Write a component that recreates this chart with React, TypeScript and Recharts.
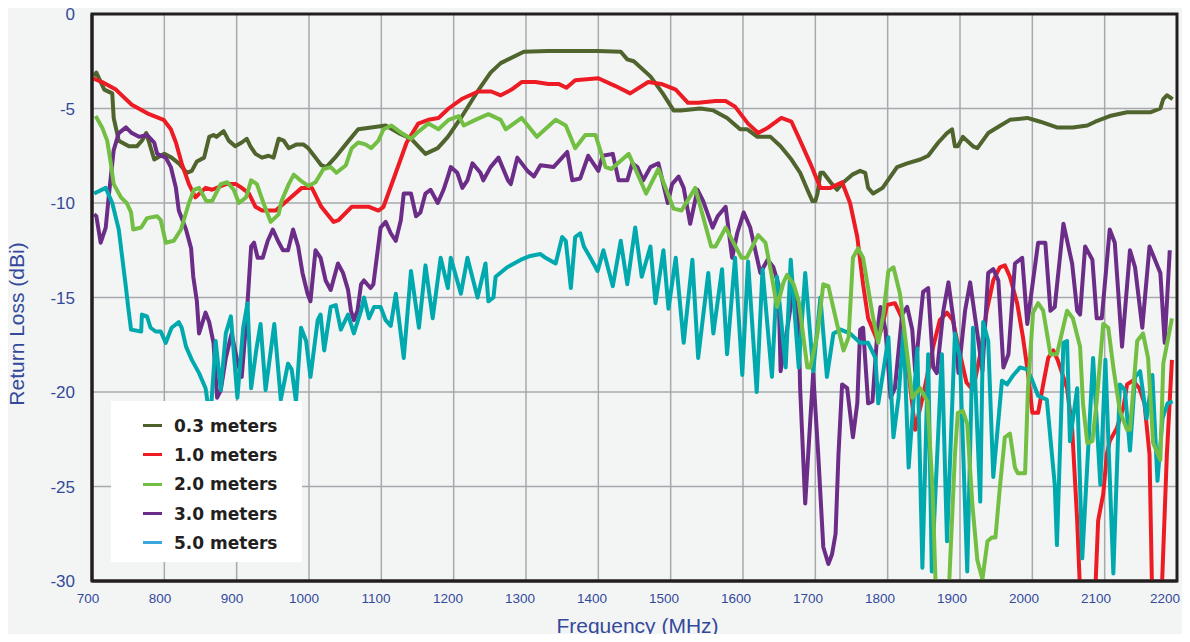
import { LineChart, Line, XAxis, YAxis, CartesianGrid, ReferenceArea } from "recharts";

type Pt = [number, number]; // [MHz, dBi]

const xTicks = [700, 800, 900, 1000, 1100, 1200, 1300, 1400, 1500, 1600, 1700, 1800, 1900, 2000, 2100, 2200];
const yTicks = [0, -5, -10, -15, -20, -25, -30];

const rl03: Pt[] = [
  [703, -3.3], [706, -3.1], [717, -4.0], [728, -4.2], [730, -5.5], [737, -6.7], [751, -7.0], [762, -7.0],
  [769, -6.7], [775, -6.3], [779, -6.8], [786, -7.7], [800, -7.4], [810, -7.6], [820, -7.9], [831, -8.4],
  [838, -8.3], [845, -7.8], [855, -7.6], [862, -6.5], [868, -6.4], [872, -6.5], [882, -6.2], [889, -6.7],
  [898, -7.0], [907, -6.8], [914, -6.6], [919, -7.0], [926, -7.4], [935, -7.6], [944, -7.5], [951, -7.6],
  [958, -6.6], [965, -6.7], [972, -7.1], [983, -6.9], [992, -6.9], [999, -7.1], [1009, -7.6], [1017, -8.0],
  [1024, -8.1], [1036, -7.6], [1055, -6.7], [1068, -6.1], [1086, -6.0], [1106, -5.9], [1124, -6.3],
  [1141, -6.6], [1161, -7.4], [1178, -7.1], [1192, -6.5], [1210, -5.5], [1233, -4.1], [1251, -3.1],
  [1265, -2.6], [1297, -2.0], [1330, -1.96], [1399, -1.96], [1431, -2.0], [1440, -2.4], [1449, -2.5],
  [1472, -3.3], [1489, -4.2], [1504, -5.1], [1514, -5.1], [1541, -5.0], [1559, -5.1], [1578, -5.5],
  [1596, -6.1], [1606, -6.1], [1620, -6.5], [1638, -6.5], [1652, -7.0], [1667, -7.7], [1679, -8.4],
  [1689, -9.3], [1696, -9.9], [1700, -9.9], [1703, -9.5], [1707, -8.4], [1711, -8.4], [1721, -8.9],
  [1730, -9.3], [1739, -8.9], [1751, -8.5], [1762, -8.3], [1769, -8.4], [1773, -9.2], [1780, -9.5],
  [1793, -9.2], [1813, -8.1], [1827, -7.9], [1845, -7.7], [1856, -7.5], [1870, -6.8], [1882, -6.3],
  [1889, -6.1], [1893, -7.0], [1897, -7.0], [1904, -6.5], [1918, -7.0], [1924, -7.1], [1939, -6.3],
  [1956, -5.9], [1969, -5.6], [1993, -5.5], [2011, -5.7], [2034, -6.0], [2056, -6.0], [2076, -5.9],
  [2087, -5.7], [2107, -5.4], [2131, -5.2], [2163, -5.2], [2177, -5.0], [2181, -4.5], [2186, -4.3],
  [2194, -4.5],
];

const rl10: Pt[] = [
  [701, -3.4], [714, -3.6], [733, -4.0], [755, -4.8], [779, -5.3], [799, -5.6], [809, -6.1], [816, -6.8],
  [824, -7.9], [834, -9.0], [843, -9.7], [857, -9.2], [866, -9.3], [885, -9.0], [899, -9.0], [907, -9.2],
  [917, -9.5], [926, -10.2], [935, -10.4], [954, -10.4], [972, -9.8], [990, -9.2], [1004, -9.2],
  [1017, -10.2], [1034, -11.0], [1041, -10.9], [1059, -10.2], [1083, -10.2], [1096, -10.4], [1103, -10.2],
  [1120, -8.4], [1135, -6.8], [1151, -5.8], [1165, -5.6], [1179, -5.5], [1193, -5.0], [1211, -4.5],
  [1234, -4.1], [1252, -4.1], [1265, -4.3], [1280, -4.0], [1294, -3.6], [1313, -3.6], [1331, -3.7],
  [1345, -3.7], [1356, -3.9], [1368, -3.5], [1400, -3.4], [1423, -3.8], [1444, -4.2], [1469, -3.6],
  [1487, -3.7], [1507, -4.0], [1524, -4.7], [1538, -4.7], [1562, -4.6], [1576, -4.6], [1589, -4.9],
  [1607, -5.8], [1621, -6.3], [1635, -6.0], [1653, -5.5], [1667, -5.7], [1679, -6.7], [1693, -7.9],
  [1707, -9.2], [1721, -9.2], [1737, -8.9], [1748, -10.0], [1758, -11.8], [1766, -14.3], [1773, -16.1],
  [1786, -17.3], [1792, -16.6], [1799, -15.4], [1810, -15.3], [1820, -16.1], [1829, -19.0], [1838, -22.0],
  [1850, -20.0], [1863, -17.6], [1872, -16.2], [1882, -15.8], [1890, -16.2], [1900, -18.0], [1909, -19.5],
  [1918, -19.9], [1928, -18.0], [1937, -15.7], [1946, -14.1], [1955, -13.4], [1962, -13.3], [1969, -13.9],
  [1979, -15.3], [1987, -17.1], [1994, -19.0], [2000, -21.1], [2008, -21.1], [2015, -19.6], [2022, -18.2],
  [2029, -17.8], [2035, -18.3], [2048, -19.8], [2055, -21.9], [2062, -26.8], [2067, -31.5], [2086, -31.5],
  [2091, -26.8], [2098, -25.4], [2103, -23.3], [2107, -22.6], [2117, -21.9], [2126, -20.8], [2131, -19.6],
  [2139, -19.4], [2148, -19.8], [2155, -20.6], [2162, -23.3], [2166, -31.5], [2178, -31.5], [2186, -23.3],
  [2193, -18.3],
];

const rl20: Pt[] = [
  [705, -5.4], [714, -6.0], [721, -6.7], [726, -7.9], [730, -9.0], [740, -9.7], [748, -10.0], [754, -10.5],
  [757, -11.4], [768, -11.3], [776, -10.8], [790, -10.7], [795, -10.9], [802, -12.1], [813, -12.0],
  [823, -11.4], [834, -10.0], [841, -9.3], [848, -9.2], [858, -9.9], [866, -9.9], [878, -9.0], [887, -8.9],
  [896, -9.3], [903, -10.0], [913, -9.7], [920, -8.8], [928, -9.0], [937, -10.0], [947, -11.0], [958, -10.6],
  [962, -9.9], [972, -9.0], [979, -8.5], [988, -8.8], [999, -9.1], [1009, -8.9], [1020, -8.2], [1030, -8.1],
  [1038, -8.4], [1051, -8.0], [1059, -7.1], [1068, -6.8], [1078, -6.9], [1086, -7.1], [1096, -6.7],
  [1103, -6.1], [1114, -5.9], [1128, -6.3], [1141, -6.6], [1149, -6.3], [1165, -5.8], [1179, -6.1],
  [1193, -5.6], [1207, -5.4], [1214, -5.9], [1230, -5.6], [1248, -5.3], [1265, -5.6], [1272, -6.1],
  [1294, -5.5], [1315, -6.5], [1341, -5.6], [1355, -5.9], [1368, -7.1], [1382, -6.4], [1396, -6.4],
  [1410, -8.1], [1418, -8.2], [1442, -7.4], [1466, -9.5], [1483, -8.2], [1504, -10.3], [1515, -10.4],
  [1534, -9.2], [1556, -12.3], [1562, -12.3], [1576, -11.3], [1598, -12.9], [1605, -12.9], [1621, -11.7],
  [1631, -12.1], [1639, -13.7], [1647, -15.5], [1656, -14.2], [1661, -13.8], [1670, -14.3], [1677, -15.2],
  [1689, -18.7], [1693, -18.7], [1703, -16.9], [1711, -14.3], [1718, -14.4], [1730, -16.4], [1739, -17.8],
  [1746, -17.1], [1752, -12.9], [1759, -12.4], [1766, -12.9], [1779, -15.9], [1787, -17.4], [1794, -15.9],
  [1801, -13.6], [1808, -13.4], [1817, -14.8], [1827, -18.0], [1834, -20.3], [1845, -19.8], [1855, -20.5],
  [1862, -25.1], [1867, -31.0], [1884, -31.0], [1893, -23.3], [1897, -21.1], [1904, -21.0], [1910, -21.7],
  [1917, -25.9], [1924, -28.9], [1931, -29.9], [1938, -27.9], [1944, -27.7], [1949, -27.7], [1955, -25.1],
  [1962, -22.4], [1969, -22.2], [1976, -24.0], [1980, -24.3], [1990, -24.3], [1994, -19.8], [2001, -15.8],
  [2008, -15.3], [2015, -15.7], [2025, -18.0], [2034, -18.0], [2048, -15.7], [2056, -16.1], [2066, -17.6],
  [2070, -20.6], [2076, -22.7], [2083, -22.6], [2089, -20.5], [2098, -16.4], [2105, -16.6], [2112, -18.7],
  [2121, -21.0], [2131, -22.0], [2135, -22.0], [2145, -17.3], [2153, -16.9], [2160, -18.2], [2167, -22.7],
  [2177, -23.6], [2181, -18.5], [2193, -16.1],
];

const rl30: Pt[] = [
  [703, -10.6], [706, -10.7], [712, -12.1], [719, -11.3], [723, -9.7], [730, -7.2], [737, -6.3], [747, -6.0],
  [755, -6.3], [765, -6.5], [776, -6.4], [786, -6.8], [790, -7.4], [802, -7.6], [809, -8.1], [816, -9.2],
  [820, -10.4], [830, -11.4], [837, -12.4], [840, -13.9], [845, -15.2], [848, -16.9], [857, -15.8],
  [862, -16.3], [868, -17.4], [873, -20.3], [878, -19.9], [885, -18.2], [893, -16.9], [900, -18.2],
  [907, -19.2], [910, -17.8], [915, -15.3], [920, -12.3], [924, -12.1], [929, -12.9], [936, -12.9],
  [943, -12.0], [950, -11.4], [957, -12.0], [964, -12.5], [971, -12.5], [978, -11.4], [985, -12.3],
  [991, -13.7], [998, -14.8], [1002, -15.2], [1009, -12.5], [1016, -12.9], [1023, -14.1], [1030, -14.6],
  [1040, -13.2], [1047, -13.7], [1054, -14.6], [1058, -15.7], [1062, -16.2], [1067, -15.7], [1072, -14.3],
  [1076, -14.1], [1085, -14.5], [1089, -14.3], [1095, -12.5], [1099, -11.3], [1106, -11.0], [1113, -11.6],
  [1120, -12.0], [1127, -10.9], [1131, -9.5], [1141, -9.5], [1148, -10.7], [1154, -10.5], [1161, -9.5],
  [1168, -9.3], [1178, -10.0], [1186, -9.3], [1192, -8.6], [1196, -8.1], [1205, -8.4], [1212, -9.2],
  [1219, -8.8], [1226, -7.9], [1237, -8.4], [1241, -8.8], [1251, -8.1], [1262, -7.6], [1275, -8.8],
  [1279, -9.0], [1288, -7.6], [1302, -8.3], [1311, -8.6], [1320, -8.0], [1338, -8.1], [1350, -7.6],
  [1357, -7.3], [1364, -8.8], [1375, -8.7], [1386, -7.5], [1393, -7.9], [1400, -8.3], [1406, -7.5],
  [1420, -7.4], [1428, -8.8], [1440, -8.8], [1447, -7.9], [1454, -8.1], [1462, -8.8], [1472, -8.1],
  [1483, -7.9], [1496, -10.0], [1502, -9.0], [1511, -8.6], [1518, -9.2], [1527, -11.1], [1537, -9.3],
  [1545, -9.9], [1558, -11.3], [1565, -10.7], [1576, -10.2], [1585, -12.9], [1592, -11.6], [1601, -10.5],
  [1610, -11.3], [1624, -13.7], [1634, -13.0], [1642, -13.4], [1649, -14.3], [1652, -18.9], [1665, -15.7],
  [1670, -14.5], [1677, -16.4], [1679, -19.8], [1686, -25.9], [1693, -21.5], [1697, -19.0], [1704, -23.3],
  [1711, -28.2], [1718, -29.1], [1723, -28.6], [1728, -27.5], [1732, -23.3], [1737, -19.6], [1744, -19.8],
  [1752, -22.4], [1758, -20.6], [1762, -16.7], [1766, -16.6], [1773, -20.6], [1779, -20.5], [1786, -16.7],
  [1790, -15.5], [1797, -16.7], [1804, -20.3], [1810, -19.8], [1820, -15.9], [1827, -15.5], [1834, -16.7],
  [1838, -18.9], [1849, -14.7], [1856, -14.5], [1863, -18.7], [1868, -19.0], [1877, -15.7], [1884, -14.2],
  [1891, -16.2], [1898, -19.0], [1907, -15.7], [1914, -14.2], [1924, -16.9], [1931, -18.9], [1939, -13.7],
  [1946, -13.5], [1953, -14.1], [1960, -18.7], [1967, -18.0], [1976, -13.2], [1986, -12.9], [1993, -16.4],
  [2008, -12.1], [2018, -12.1], [2025, -15.7], [2031, -15.5], [2043, -11.1], [2055, -13.2], [2062, -15.7],
  [2066, -15.9], [2073, -12.3], [2083, -13.0], [2089, -16.1], [2096, -16.1], [2107, -11.4], [2114, -12.1],
  [2124, -17.6], [2135, -12.5], [2142, -13.4], [2152, -16.6], [2162, -12.3], [2177, -13.7], [2183, -17.4],
  [2190, -12.5],
];

const rl50: Pt[] = [
  [703, -9.5], [719, -9.2], [728, -10.0], [737, -11.4], [747, -14.5], [750, -15.5], [754, -16.7], [768, -16.8],
  [769, -15.9], [776, -16.0], [781, -16.6], [788, -16.8], [795, -16.8], [802, -17.4], [810, -16.6],
  [820, -16.3], [824, -16.6], [830, -17.6], [838, -18.3], [848, -19.0], [857, -19.8], [860, -20.6],
  [864, -21.2], [871, -17.3], [878, -19.9], [885, -16.9], [892, -16.0], [901, -20.3], [909, -16.6],
  [915, -15.3], [920, -19.8], [927, -17.8], [933, -16.4], [940, -19.9], [952, -16.4], [961, -20.4],
  [971, -18.5], [976, -18.8], [982, -20.5], [989, -16.6], [996, -17.3], [1002, -19.2], [1012, -16.2],
  [1016, -15.9], [1021, -17.8], [1030, -15.5], [1037, -15.4], [1044, -16.7], [1054, -15.9], [1062, -16.9],
  [1072, -15.7], [1076, -15.0], [1083, -16.1], [1090, -15.5], [1099, -15.5], [1106, -16.2], [1113, -16.5],
  [1120, -14.8], [1131, -18.2], [1141, -13.6], [1152, -16.6], [1161, -13.3], [1171, -16.1], [1182, -12.9],
  [1192, -14.5], [1196, -12.9], [1210, -14.8], [1219, -12.9], [1233, -15.0], [1244, -13.2], [1248, -15.2],
  [1255, -15.0], [1258, -13.9], [1274, -13.4], [1293, -13.0], [1306, -12.8], [1320, -12.7], [1327, -12.9],
  [1341, -13.2], [1350, -11.8], [1355, -12.0], [1362, -14.5], [1368, -11.8], [1375, -11.6], [1380, -12.3],
  [1389, -12.9], [1399, -13.6], [1407, -12.5], [1420, -14.4], [1431, -12.0], [1440, -14.3], [1451, -11.3],
  [1460, -13.9], [1472, -12.3], [1479, -15.3], [1490, -12.5], [1497, -15.6], [1507, -12.9], [1518, -17.4],
  [1530, -13.0], [1538, -18.2], [1552, -13.7], [1559, -16.9], [1571, -13.5], [1578, -18.0], [1589, -12.9],
  [1599, -19.1], [1607, -13.1], [1619, -20.0], [1627, -13.5], [1640, -19.2], [1647, -13.9], [1659, -18.7],
  [1666, -13.0], [1677, -18.7], [1686, -13.7], [1697, -18.9], [1707, -15.0], [1716, -19.2], [1725, -16.9],
  [1735, -16.7], [1748, -16.9], [1762, -17.4], [1773, -17.4], [1783, -18.2], [1787, -20.6], [1794, -18.9],
  [1801, -17.1], [1808, -22.4], [1815, -20.3], [1822, -16.7], [1829, -24.0], [1841, -17.7], [1848, -29.3],
  [1856, -18.0], [1861, -29.5], [1875, -18.0], [1882, -27.9], [1893, -16.9], [1900, -18.2], [1910, -29.5],
  [1918, -16.6], [1928, -25.8], [1932, -16.3], [1939, -17.3], [1946, -24.5], [1958, -19.4], [1965, -19.6],
  [1974, -19.1], [1983, -18.7], [1993, -18.8], [2000, -19.4], [2008, -20.2], [2020, -20.4], [2031, -24.9],
  [2034, -28.1], [2043, -17.4], [2048, -17.3], [2052, -22.6], [2062, -19.8], [2069, -28.8], [2084, -18.2],
  [2094, -24.9], [2101, -18.3], [2112, -29.6], [2121, -19.6], [2128, -19.9], [2135, -23.1], [2142, -19.2],
  [2149, -18.9], [2158, -21.4], [2166, -19.1], [2173, -24.7], [2180, -21.4], [2187, -20.6], [2194, -20.5],
];

const SERIES = [
  { id: "m03", name: "0.3 meters", color: "#50642d", swatch: "#4d602c", points: rl03 },
  { id: "m10", name: "1.0 meters", color: "#ed1c24", swatch: "#ed1c24", points: rl10 },
  { id: "m20", name: "2.0 meters", color: "#72bf44", swatch: "#72bf44", points: rl20 },
  { id: "m30", name: "3.0 meters", color: "#6b2d87", swatch: "#6b2d87", points: rl30 },
  { id: "m50", name: "5.0 meters", color: "#00a9ae", swatch: "#3aa8dc", points: rl50 },
];

// draw order as in the original: olive, red, purple, teal, light green on top
const DRAW_ORDER = ["m03", "m10", "m30", "m50", "m20"];

const toRows = (pts: Pt[]) => pts.map(([f, v]) => ({ f, v }));

const AXIS_BLUE = "#34499b";
const SANS = "'Liberation Sans', Arial, sans-serif";

// the printed labels sit a little left of their grid lines, drifting further left toward 2200
// eslint-disable-next-line @typescript-eslint/no-explicit-any
function FreqTick({ x, y, payload }: any) {
  const shift = -4 - (5 * (payload.value - 700)) / 1500;
  return (
    <text x={x + shift} y={y} dy="0.71em" textAnchor="middle" fill={AXIS_BLUE} fontSize={13.5} fontFamily={SANS}>
      {payload.value}
    </text>
  );
}

function YTitle() {
  return (
    <text transform="translate(24,324) rotate(-90)" textAnchor="middle" fill={AXIS_BLUE} fontSize={21} fontFamily={SANS}>
      Return Loss (dBi)
    </text>
  );
}

function LegendBox() {
  return (
    <div
      style={{
        position: "absolute",
        left: 111,
        top: 401,
        width: 191,
        height: 161,
        background: "#ffffff",
        boxSizing: "border-box",
        paddingTop: 10,
      }}
    >
      {SERIES.map((s) => (
        <div key={s.id} style={{ display: "flex", alignItems: "center", height: 29.3 }}>
          <span style={{ display: "inline-block", marginLeft: 32, width: 19, height: 3, background: s.swatch }} />
          <span
            style={{
              marginLeft: 12,
              fontFamily: "'DejaVu Sans', sans-serif",
              fontWeight: 700,
              fontSize: 17,
              color: "#231f20",
            }}
          >
            {s.name}
          </span>
        </div>
      ))}
    </div>
  );
}

export default function App() {
  return (
    <div style={{ position: "relative", width: 1190, height: 642, margin: -8, background: "#f3f5f4", overflow: "hidden" }}>
      <LineChart width={1190} height={642} margin={{ top: 14, right: 13, bottom: 0, left: 0 }}>
        <CartesianGrid stroke="#a7a9ac" strokeWidth={1.5} />
        <XAxis
          dataKey="f"
          type="number"
          domain={[700, 2200]}
          ticks={xTicks}
          allowDataOverflow
          height={61}
          tickSize={0}
          tickMargin={12}
          tick={<FreqTick />}
          axisLine={{ stroke: "#231f20", strokeWidth: 3 }}
          label={{
            value: "Frequency (MHz)",
            position: "insideBottom",
            offset: 9,
            dx: 3,
            style: { fill: AXIS_BLUE, fontSize: 21, fontFamily: SANS },
          }}
        />
        <YAxis
          type="number"
          domain={[-30, 0]}
          ticks={yTicks}
          allowDataOverflow
          width={92}
          tickSize={0}
          tickMargin={17}
          tick={{ fill: AXIS_BLUE, fontSize: 17, fontFamily: SANS }}
          axisLine={{ stroke: "#231f20", strokeWidth: 3 }}
          label={YTitle}
        />
        <ReferenceArea x1={700} x2={2200} y1={-30} y2={0} fill="none" stroke="#231f20" strokeWidth={3} />
        {DRAW_ORDER.map((id) => {
          const s = SERIES.find((x) => x.id === id)!;
          return (
            <Line
              key={s.id}
              data={toRows(s.points)}
              dataKey="v"
              name={s.name}
              type="linear"
              stroke={s.color}
              strokeWidth={4}
              strokeLinejoin="round"
              dot={false}
              activeDot={false}
              isAnimationActive={false}
            />
          );
        })}
      </LineChart>
      <LegendBox />
    </div>
  );
}
